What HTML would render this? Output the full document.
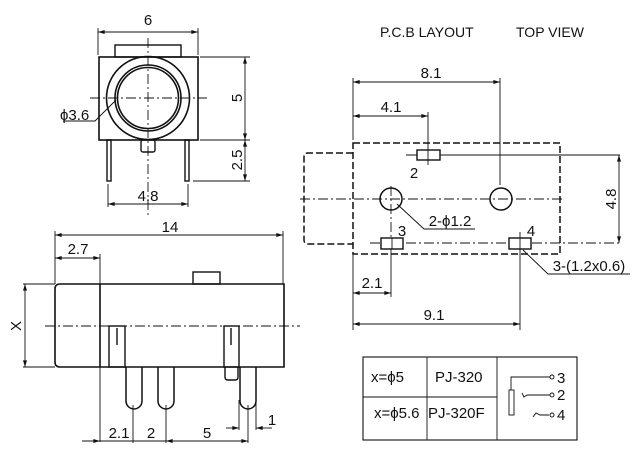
<!DOCTYPE html>
<html><head><meta charset="utf-8"><style>
html,body{margin:0;padding:0;background:#fff;}
svg{display:block;}
text{font-family:"Liberation Sans",sans-serif;fill:#111;}
</style></head><body>
<svg width="632" height="456" viewBox="0 0 632 456" xmlns="http://www.w3.org/2000/svg">
<defs>
<marker id="a" viewBox="0 0 10 6" refX="10" refY="3" markerWidth="12" markerHeight="4" orient="auto-start-reverse" markerUnits="userSpaceOnUse"><path d="M0,0L10,3L0,6z" fill="#111"/></marker>
</defs>
<g stroke="#111" fill="none" stroke-width="0.9">
<!-- FRONT VIEW -->
<line x1="98" y1="32" x2="198" y2="32" marker-start="url(#a)" marker-end="url(#a)"/>
<line x1="98" y1="28" x2="98" y2="55"/><line x1="198" y1="28" x2="198" y2="55"/>
<rect x="115" y="45" width="66" height="12" stroke-width="1.4"/>
<rect x="99" y="57" width="99" height="83" stroke-width="1.6"/>
<circle cx="148" cy="98" r="41.5" stroke-width="1.6"/>
<circle cx="148" cy="98" r="33" stroke-width="1.6"/>
<circle cx="148" cy="98" r="30.5" stroke-width="1.6"/>
<line x1="90" y1="98" x2="207" y2="98" stroke-dasharray="10,3,2,3"/>
<line x1="148" y1="38" x2="148" y2="218" stroke-dasharray="10,3,2,3"/>
<polyline points="63,121 95,121 116,100"/>
<rect x="141" y="140" width="14" height="12" rx="2" stroke-width="1.4"/>
<rect x="107" y="140" width="4" height="41" stroke-width="1.4"/>
<rect x="185" y="140" width="4" height="41" stroke-width="1.4"/>
<line x1="245" y1="57" x2="245" y2="140" marker-start="url(#a)" marker-end="url(#a)"/>
<line x1="245" y1="140" x2="245" y2="181" marker-start="url(#a)" marker-end="url(#a)"/>
<line x1="200" y1="57" x2="250" y2="57"/><line x1="200" y1="140" x2="250" y2="140"/><line x1="193" y1="181" x2="250" y2="181"/>
<line x1="108" y1="204" x2="188" y2="204" marker-start="url(#a)" marker-end="url(#a)"/>
<line x1="108" y1="184" x2="108" y2="207"/><line x1="188" y1="184" x2="188" y2="207"/>

<!-- SIDE VIEW -->
<line x1="55" y1="235" x2="283" y2="235" marker-start="url(#a)" marker-end="url(#a)"/>
<line x1="55" y1="231" x2="55" y2="284"/><line x1="283" y1="231" x2="283" y2="284"/>
<line x1="55" y1="258" x2="100" y2="258" marker-start="url(#a)" marker-end="url(#a)"/>
<line x1="100" y1="254" x2="100" y2="442"/>
<path d="M60,284H284V367H60Q55,367 55,362V289Q55,284 60,284Z" stroke-width="1.6"/>
<line x1="100" y1="284" x2="100" y2="367" stroke-width="1.6"/>
<rect x="193" y="272" width="27" height="12" stroke-width="1.4"/>
<line x1="45" y1="326" x2="300" y2="326" stroke-dasharray="10,3,2,3"/>
<line x1="25" y1="284" x2="25" y2="367" marker-start="url(#a)" marker-end="url(#a)"/>
<line x1="23" y1="284" x2="55" y2="284"/><line x1="23" y1="367" x2="55" y2="367"/>
<rect x="109" y="326" width="16" height="41" stroke-width="1.4"/>
<line x1="117" y1="328" x2="117" y2="345" stroke-width="1.4"/>
<rect x="224" y="326" width="15" height="41" stroke-width="1.4"/>
<line x1="231" y1="328" x2="231" y2="345" stroke-width="1.4"/>
<path d="M126,367V401A8,8 0 0 0 142,401V367" stroke-width="1.5"/>
<path d="M158,367V401A8,8 0 0 0 174,401V367" stroke-width="1.5"/>
<path d="M240,367V401A8,8 0 0 0 256,401V367" stroke-width="1.5"/>
<path d="M225,367V377Q225,380 228,380H235Q238,380 238,377V367" stroke-width="1.4"/>
<line x1="82" y1="441" x2="100" y2="441" marker-end="url(#a)"/>
<line x1="100" y1="441" x2="166" y2="441"/>
<line x1="166" y1="441" x2="184" y2="441" marker-start="url(#a)"/>
<line x1="184" y1="441" x2="230" y2="441"/>
<line x1="230" y1="441" x2="248" y2="441" marker-end="url(#a)"/>
<line x1="133" y1="405" x2="133" y2="443"/><line x1="166" y1="405" x2="166" y2="443"/><line x1="248" y1="405" x2="248" y2="443"/>
<line x1="239" y1="400" x2="239" y2="430"/><line x1="256" y1="400" x2="256" y2="430"/>
<line x1="226" y1="428" x2="239" y2="428" marker-end="url(#a)"/>
<line x1="256" y1="428" x2="272" y2="428" marker-start="url(#a)"/>

<!-- PCB LAYOUT -->
<line x1="353" y1="82" x2="500" y2="82" marker-start="url(#a)" marker-end="url(#a)"/>
<line x1="353" y1="78" x2="353" y2="140"/><line x1="500" y1="78" x2="500" y2="185"/>
<line x1="353" y1="116" x2="428" y2="116" marker-start="url(#a)" marker-end="url(#a)"/>
<line x1="428" y1="112" x2="428" y2="165"/>
<rect x="353" y="143" width="207" height="111" stroke-width="1.5" stroke-dasharray="7,3"/>
<path d="M353,153H308Q304,153 304,157V240Q304,244 308,244H353" stroke-width="1.5" stroke-dasharray="7,3"/>
<line x1="406" y1="155" x2="620" y2="155"/>
<rect x="417" y="150" width="23" height="10" stroke-width="1.4" fill="#fff"/>
<line x1="428" y1="150" x2="428" y2="160"/>
<line x1="300" y1="199" x2="565" y2="199" stroke-dasharray="10,3,2,3"/>
<line x1="391" y1="186" x2="391" y2="250" stroke-dasharray="10,3,2,3"/>
<circle cx="391" cy="199" r="11" stroke-width="1.5"/>
<circle cx="501" cy="199" r="11" stroke-width="1.5"/>
<line x1="370" y1="243" x2="622" y2="243" stroke-dasharray="10,3,2,3"/>
<rect x="381" y="238" width="22" height="11" stroke-width="1.4" fill="#fff"/>
<line x1="392" y1="238" x2="392" y2="249"/>
<rect x="509" y="238" width="22" height="11" stroke-width="1.4" fill="#fff"/>
<line x1="520" y1="232" x2="520" y2="330"/>
<line x1="619" y1="155" x2="619" y2="243" marker-start="url(#a)" marker-end="url(#a)"/>
<polyline points="475,229 424,229 397,204"/>
<polyline points="630,274 548,274 523,250"/>
<line x1="353" y1="254" x2="353" y2="330"/>
<line x1="391" y1="250" x2="391" y2="297"/>
<line x1="353" y1="293" x2="391" y2="293" marker-start="url(#a)" marker-end="url(#a)"/>
<line x1="353" y1="324" x2="520" y2="324" marker-start="url(#a)" marker-end="url(#a)"/>

<!-- TABLE -->
<rect x="363" y="357" width="214" height="83" stroke-width="1.1"/>
<line x1="363" y1="397" x2="497" y2="397"/>
<line x1="427" y1="357" x2="427" y2="440"/>
<line x1="497" y1="357" x2="497" y2="440"/>
<rect x="509" y="390" width="5" height="25"/>
<polyline points="511,390 511,377 550,377"/>
<polyline points="522,393 524,397 527,395 550,395"/>
<polyline points="533,417 536,413 540,415 549,415"/>
<circle cx="552" cy="377" r="2"/><circle cx="552" cy="395" r="2"/><circle cx="552" cy="415" r="2"/>
</g>
<g font-size="15">
<text x="148" y="25" text-anchor="middle">6</text>
<text x="60" y="120">ϕ3.6</text>
<text transform="translate(242,98) rotate(-90)" text-anchor="middle">5</text>
<text transform="translate(242,160) rotate(-90)" text-anchor="middle">2.5</text>
<text x="148" y="201" text-anchor="middle">4.8</text>
<text x="170" y="232" text-anchor="middle">14</text>
<text x="78" y="254" text-anchor="middle">2.7</text>
<text transform="translate(21,326) rotate(-90)" text-anchor="middle">X</text>
<text x="119" y="438" text-anchor="middle">2.1</text>
<text x="151" y="438" text-anchor="middle">2</text>
<text x="207" y="438" text-anchor="middle">5</text>
<text x="272" y="425" text-anchor="middle">1</text>
<text x="380" y="37" font-size="14">P.C.B LAYOUT</text>
<text x="516" y="37" font-size="14">TOP VIEW</text>
<text x="431" y="78" text-anchor="middle">8.1</text>
<text x="391" y="112" text-anchor="middle">4.1</text>
<text x="414" y="178" text-anchor="middle">2</text>
<text x="402" y="236" text-anchor="middle">3</text>
<text x="531" y="236" text-anchor="middle">4</text>
<text x="450" y="226" text-anchor="middle">2-ϕ1.2</text>
<text x="589" y="271" text-anchor="middle">3-(1.2x0.6)</text>
<text transform="translate(616,199) rotate(-90)" text-anchor="middle">4.8</text>
<text x="372" y="288" text-anchor="middle">2.1</text>
<text x="434" y="320" text-anchor="middle">9.1</text>
<text x="371" y="382">x=ϕ5</text>
<text x="435" y="382">PJ-320</text>
<text x="374" y="418">x=ϕ5.6</text>
<text x="428" y="418">PJ-320F</text>
<text x="557" y="383">3</text>
<text x="557" y="400">2</text>
<text x="557" y="420">4</text>
</g>
</svg>
</body></html>
